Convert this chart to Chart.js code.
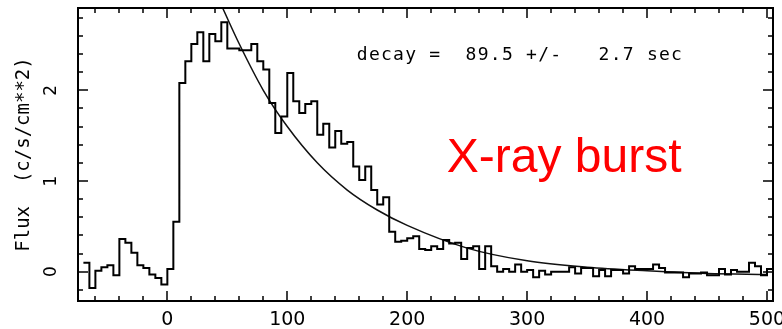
<!DOCTYPE html>
<html>
<head>
<meta charset="utf-8">
<script src="https://cdn.jsdelivr.net/npm/chart.js@4.4.0/dist/chart.umd.min.js"></script>
<style>
  html, body { margin: 0; padding: 0; background: #fff; }
</style>
</head>
<body>
<canvas id="burstChart" width="782" height="329"></canvas>
<script>
// light curve, 5 s bins, first bin starts at -70 s
const binStart = -70;
const binWidth = 5;
const fluxValues = [
    0.10, -0.18, 0.01, 0.05, 0.07, -0.04, 0.36, 0.32, 0.21, 0.07,   // -70 .. -25
    0.04, -0.03, -0.07, -0.14, 0.03, 0.55, 2.08, 2.32, 2.51, 2.64,  // -20 .. 25
    2.32, 2.62, 2.54, 2.75, 2.46, 2.46, 2.44, 2.44, 2.51, 2.32,     // 30 .. 75
    2.23, 1.86, 1.53, 1.71, 2.19, 1.88, 1.75, 1.85, 1.88, 1.51,     // 80 .. 125
    1.63, 1.37, 1.55, 1.41, 1.43, 1.16, 1.01, 1.16, 0.90, 0.74,     // 130 .. 175
    0.82, 0.44, 0.33, 0.34, 0.37, 0.39, 0.25, 0.24, 0.28, 0.25,     // 180 .. 225
    0.35, 0.31, 0.32, 0.14, 0.26, 0.28, 0.03, 0.28, 0.06, 0.00,     // 230 .. 275
    0.03, 0.00, 0.08, 0.00, 0.02, -0.06, 0.01, -0.03, 0.00, 0.00,   // 280 .. 325
    0.00, 0.05, -0.02, 0.04, 0.04, -0.05, 0.02, -0.05, 0.02, 0.02,  // 330 .. 375
    -0.02, 0.06, 0.03, 0.03, 0.03, 0.08, 0.04, -0.01, -0.01, -0.01, // 380 .. 425
    -0.06, -0.02, -0.02, -0.01, -0.04, -0.04, 0.03, -0.03, 0.02, 0.00, // 430 .. 475
    0.00, 0.10, 0.06, -0.04, 0.03                                   // 480 .. 500
];

// decay fit curve
const fitTimes = [46, 60, 80, 100, 125, 150, 175, 200, 250, 300, 350, 400, 450, 500];
const fitFlux = [2.91, 2.51, 2.00, 1.60, 1.20, 0.90, 0.68, 0.51, 0.26, 0.12, 0.05, 0.01, -0.02, -0.03];

const xTickValues = [0, 100, 200, 300, 400, 500];
const yTickValues = [0, 1, 2];

const decayLabel = 'decay =  89.5 +/-   2.7 sec';
const burstLabel = 'X-ray burst';

// histogram as a stepped line: each point holds its value until the next edge
const histPoints = fluxValues.map((v, i) => ({ x: binStart + i * binWidth, y: v }));
histPoints.push({ x: binStart + fluxValues.length * binWidth, y: fluxValues[fluxValues.length - 1] });

const fitPoints = fitTimes.map((t, i) => ({ x: t, y: fitFlux[i] }));

// box frame with inward ticks on all four sides, plus the text labels
const frameTicks = {
    id: 'frameTicks',
    afterDatasetsDraw(chart) {
        const { ctx, chartArea: a, scales: { x, y } } = chart;
        ctx.save();
        ctx.strokeStyle = '#000';
        ctx.lineWidth = 2;
        ctx.strokeRect(a.left, a.top, a.right - a.left, a.bottom - a.top);

        ctx.lineWidth = 1.5;
        ctx.beginPath();
        for (let k = -3; k <= 25; k++) {
            const px = Math.round(x.getPixelForValue(k * 20));
            if (px <= a.left || px >= a.right) continue;
            const len = k % 5 === 0 ? 10 : 5;
            ctx.moveTo(px, a.bottom); ctx.lineTo(px, a.bottom - len);
            ctx.moveTo(px, a.top); ctx.lineTo(px, a.top + len);
        }
        for (let k = -1; k <= 14; k++) {
            const py = Math.round(y.getPixelForValue(k * 0.2));
            if (py <= a.top || py >= a.bottom) continue;
            const len = k % 5 === 0 ? 10 : 5;
            ctx.moveTo(a.left, py); ctx.lineTo(a.left + len, py);
            ctx.moveTo(a.right, py); ctx.lineTo(a.right - len, py);
        }
        ctx.stroke();

        ctx.fillStyle = '#000';
        ctx.font = '18px "DejaVu Sans Mono"';
        ctx.letterSpacing = '1.25px';
        ctx.textAlign = 'left';
        ctx.textBaseline = 'middle';
        ctx.fillText(decayLabel, x.getPixelForValue(158), y.getPixelForValue(2.39));
        ctx.letterSpacing = '0px';

        ctx.fillStyle = '#ff0000';
        ctx.font = '48px "Liberation Sans"';
        ctx.textBaseline = 'alphabetic';
        ctx.fillText(burstLabel, x.getPixelForValue(233), y.getPixelForValue(1.10));
        ctx.restore();
    }
};

new Chart(document.getElementById('burstChart'), {
    type: 'line',
    data: {
        datasets: [{
            label: 'flux',
            data: histPoints,
            stepped: 'before',
            borderColor: '#000',
            borderWidth: 2,
            pointRadius: 0,
            fill: false
        }, {
            label: 'fit',
            data: fitPoints,
            cubicInterpolationMode: 'monotone',
            borderColor: '#111',
            borderWidth: 1.5,
            pointRadius: 0,
            fill: false
        }]
    },
    options: {
        responsive: false,
        animation: false,
        layout: { padding: { top: 8, right: 9, left: 0, bottom: 0 } },
        plugins: {
            legend: { display: false },
            tooltip: { enabled: false }
        },
        scales: {
            x: {
                type: 'linear',
                min: -74.5,
                max: 505,
                grid: { display: false, drawTicks: false },
                border: { display: false },
                afterBuildTicks: scale => { scale.ticks = xTickValues.map(v => ({ value: v })); },
                afterFit: scale => {
                    scale.height = 28;
                    scale.paddingLeft = 0;
                    scale.paddingRight = 0;
                },
                ticks: {
                    color: '#000',
                    font: { family: 'DejaVu Sans', size: 19 },
                    maxRotation: 0,
                    padding: 8
                }
            },
            y: {
                type: 'linear',
                min: -0.323,
                max: 2.907,
                grid: { display: false, drawTicks: false },
                border: { display: false },
                afterBuildTicks: scale => { scale.ticks = yTickValues.map(v => ({ value: v })); },
                afterFit: scale => {
                    scale.width = 78;
                    scale.paddingTop = 0;
                    scale.paddingBottom = 0;
                },
                ticks: {
                    color: '#000',
                    font: { family: 'DejaVu Sans', size: 17 },
                    minRotation: 90,
                    maxRotation: 90,
                    crossAlign: 'center',
                    padding: 21
                },
                title: {
                    display: true,
                    text: 'Flux  (c/s/cm**2)',
                    color: '#000',
                    font: { family: 'DejaVu Sans Mono', size: 19 },
                    padding: { top: 13, bottom: 0 }
                }
            }
        }
    },
    plugins: [frameTicks]
});
</script>
</body>
</html>
